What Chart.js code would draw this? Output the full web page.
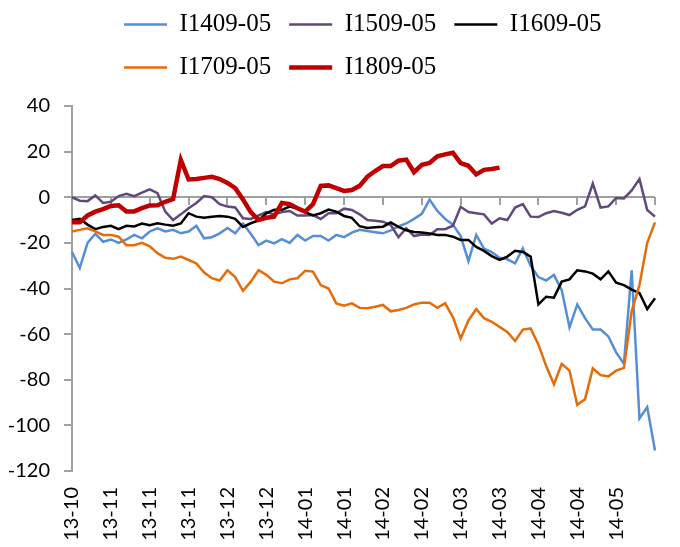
<!DOCTYPE html>
<html>
<head>
<meta charset="utf-8">
<script src="https://cdn.jsdelivr.net/npm/chart.js@4.4.1/dist/chart.umd.min.js"></script>
<style>
  html, body { margin: 0; padding: 0; background: #fff; }
  #wrap { width: 680px; height: 547px; }
</style>
</head>
<body>
<div id="wrap"><canvas id="mychart"></canvas></div>
<script>
// one point every two trading days, Oct 2013 - May 2014
var tickLabels = ["13-10", "13-11", "13-11", "13-11", "13-12", "13-12", "14-01", "14-01",
    "14-02", "14-02", "14-03", "14-03", "14-04", "14-04", "14-05"];
var ticksEvery = 5;

var seriesNames = ["I1409-05", "I1509-05", "I1609-05", "I1709-05", "I1809-05"];

var i1409 = [-24, -31, -20, -16, -19.5, -18.5, -20, -18.5, -16.5, -18,
    -15, -13.6, -15, -14.3, -15.8, -15, -12.5, -18, -17.5, -15.8,
    -13.5, -15.8, -11.5, -16, -21, -19, -20.2, -18.4, -20, -16.5,
    -19, -17, -17, -19, -16.5, -17.5, -15.5, -14.3, -14.8, -15.3,
    -15.8, -14.5, -12.8, -11.5, -9.5, -7.3, -1, -6, -9.5, -12,
    -17, -28, -16.5, -22.5, -24, -26.5, -27.2, -29, -22.4, -30,
    -35, -36.5, -34, -40.7, -57, -47, -53, -58, -58, -61,
    -68, -73, -32, -97, -92, -111];

var i1509 = [0, -1.5, -1.7, 0.8, -2.5, -2, 0.5, 1.5, 0.5, 2,
    3.5, 1.8, -6.3, -10, -7.5, -4.8, -2.5, 0.5, 0, -3,
    -4.1, -4.5, -9.2, -9.5, -8, -6.5, -7.5, -6.5, -6, -8,
    -8, -7.8, -9.5, -7, -7, -5, -5.6, -7.5, -10, -10.3,
    -10.7, -12.2, -17.5, -13.6, -17, -16.3, -16.5, -14, -14, -12.5,
    -4.2, -6.5, -7, -7.5, -11.5, -9.2, -10, -4.5, -3, -8.5,
    -8.7, -7, -6, -6.8, -7.8, -5.5, -4, 6, -4.5, -4,
    -0.3, -0.5, 3, 8, -5.6, -8.5];

var i1609 = [-10, -9.5, -12, -14, -13, -12.5, -14, -12.5, -12.8, -11.5,
    -12.3, -11.4, -12, -12.5, -11.5, -7, -8.5, -9, -8.5, -8.2,
    -8.5, -9.5, -13, -11.4, -10.2, -7, -5.5, -5.5, -4.1, -5,
    -6.5, -8, -7, -5.4, -6.3, -8.2, -9, -12.7, -13.5, -13.2,
    -12.9, -11, -13, -14.5, -15.2, -15.5, -15.9, -16.5, -16.5, -17.3,
    -18.7, -18.7, -21.8, -23.5, -25.8, -27.5, -26, -23.5, -24, -26,
    -47, -43.6, -44, -37, -36, -32, -32.5, -33.5, -36, -32.5,
    -37.5, -38.5, -40.5, -42, -49, -44.3];

var i1709 = [-15, -14.3, -13.6, -15, -16.5, -16.5, -17.3, -21, -21, -20,
    -21.5, -24.5, -26.5, -27, -26, -27.5, -29, -33, -35.5, -36.5,
    -32, -35, -41, -37, -32, -34, -37, -37.7, -36, -35.5,
    -32.2, -32.6, -38.5, -40, -46.5, -47.5, -46.5, -48.5, -48.7, -48,
    -47.2, -50, -49.4, -48.5, -47, -46.2, -46.2, -48.5, -46.5, -52.5,
    -62, -54, -49, -53, -54.6, -56.8, -59, -63, -58, -57.5,
    -64.5, -74, -82, -73, -76, -91, -88.5, -75, -78, -78.5,
    -76, -74.8, -50, -38.5, -20, -11];

var i1809 = [-11, -11, -8, -6.3, -5.2, -3.8, -3.5, -6.2, -6.2, -4.8,
    -3.6, -3.5, -2, -0.8, 16.4, 7.8, 8, 8.5, 9, 8,
    6.3, 4, -1, -6.5, -10, -9, -8.5, -2.5, -3, -4.8,
    -6.3, -3, 5, 5.2, 4, 2.8, 3.2, 5, 9, 11.5,
    13.7, 13.7, 16, 16.5, 11, 14.2, 15, 18, 18.8, 19.5,
    15, 13.8, 10, 12, 12.4, 13];

var seriesColors = ["#558ED5", "#604A7B", "#000000", "#E46C0A", "#C00000"];
var seriesWidths = [2.5, 2.5, 2.5, 2.5, 4.5];
var seriesValues = [i1409, i1509, i1609, i1709, i1809];

var axisGray = "#A0A0A0";

var labels = i1409.map(function(v, i) { return i; });

var datasets = seriesNames.map(function(name, k) {
    return {
        label: name,
        data: seriesValues[k],
        borderColor: seriesColors[k],
        backgroundColor: seriesColors[k],
        borderWidth: seriesWidths[k],
        pointRadius: 0,
        pointHoverRadius: 0,
        tension: 0,
        fill: false,
        order: seriesNames.length - k
    };
});

// put the legend where Excel had it: rows left aligned
var legendShift = {
    id: 'legendShift',
    beforeDraw: function(chart) {
        var lg = chart.legend;
        var pad = lg.options.labels.padding;
        lg.left = 124 - pad;
        lg.right = lg.left + 560;
        lg.top = -6;
    }
};

// horizontal axis crossing at 0, tick marks under each date label
var zeroAxis = {
    id: 'zeroAxis',
    beforeDatasetsDraw: function(chart) {
        var xs = chart.scales.x, ys = chart.scales.y, area = chart.chartArea;
        var y0 = Math.round(ys.getPixelForValue(0));
        var c = chart.ctx;
        c.save();
        c.strokeStyle = axisGray;
        c.lineWidth = 2;
        c.beginPath();
        c.moveTo(area.left, y0);
        c.lineTo(area.right, y0);
        for (var i = 0; i < labels.length; i += ticksEvery) {
            var px = Math.round(xs.getPixelForValue(i));
            c.moveTo(px, y0);
            c.lineTo(px, y0 + 8);
        }
        c.stroke();
        c.restore();
    }
};

var myChart = new Chart(document.getElementById('mychart'), {
    type: 'line',
    data: {
        labels: labels,
        datasets: datasets
    },
    options: {
        responsive: true,
        maintainAspectRatio: false,
        animation: false,
        events: [],
        layout: {
            padding: { left: 5, right: 25, top: 10, bottom: 0 }
        },
        plugins: {
            legend: {
                position: 'top',
                align: 'start',
                labels: {
                    usePointStyle: true,
                    pointStyle: 'line',
                    pointStyleWidth: 43,
                    padding: 18,
                    color: '#000',
                    font: { family: "'Liberation Serif', serif", size: 25 },
                    sort: function(a, b) { return a.datasetIndex - b.datasetIndex; }
                }
            },
            tooltip: { enabled: false }
        },
        scales: {
            x: {
                type: 'category',
                offset: false,
                grid: { display: false, drawTicks: false },
                border: { display: false },
                afterFit: function(scale) {
                    scale.height = 76;
                    scale.paddingRight = 0;
                },
                ticks: {
                    autoSkip: false,
                    minRotation: 90,
                    maxRotation: 90,
                    padding: 16,
                    color: '#000',
                    font: { family: 'Lato', size: 20 },
                    callback: function(v, i) {
                        return i % ticksEvery === 0 ? tickLabels[i / ticksEvery] : '';
                    }
                }
            },
            y: {
                min: -120,
                max: 40,
                afterFit: function(scale) { scale.width = 67; },
                ticks: {
                    stepSize: 20,
                    padding: 14,
                    color: '#000',
                    font: { family: 'Lato', size: 20 }
                },
                grid: {
                    drawOnChartArea: false,
                    drawTicks: true,
                    tickLength: 8,
                    lineWidth: 2,
                    color: axisGray
                },
                border: { color: axisGray, width: 2 }
            }
        }
    },
    plugins: [legendShift, zeroAxis]
});
</script>
</body>
</html>
